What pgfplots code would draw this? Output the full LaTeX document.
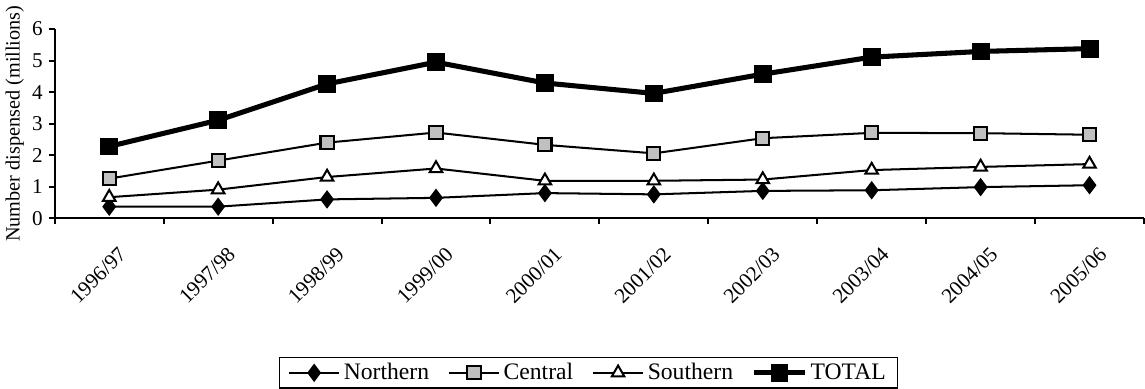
\documentclass[border=0pt]{standalone}
\usepackage{pgfplots}
\pgfplotsset{compat=1.18}
\usepackage{fontspec}
\setmainfont{Liberation Serif}

\definecolor{centralgray}{HTML}{C0C0C0}

\begin{document}
\begin{tikzpicture}
\begin{axis}[
    scale only axis,
    width=645.6pt, height=112.2pt,
    xmin=-0.5, xmax=9.5,
    ymin=0, ymax=6,
    axis x line*=bottom,
    axis y line*=left,
    axis line style={line width=1.2pt},
    xtick={-0.5,0.5,...,9.5},
    x tick label as interval,
    xticklabels={1996/97,1997/98,1998/99,1999/00,2000/01,2001/02,2002/03,2003/04,2004/05,2005/06},
    x tick label style={rotate=45, anchor=north east, xshift=-2pt, yshift=-9pt, font=\fontsize{12.5}{14}\selectfont},
    ytick={0,1,...,6},
    y tick label style={font=\fontsize{12.5}{14}\selectfont},
    tick align=outside,
    major tick length=3.6pt,
    tick style={line width=1.2pt, black},
    ylabel={Number dispensed (millions)},
    ylabel style={font=\fontsize{12}{14}\selectfont, yshift=-2pt},
    /pgf/number format/assume math mode=true,
    legend columns=4,
    legend style={at={(0.49,0)}, anchor=north, yshift=-82pt, draw=black, line width=0.9pt,
        font=\fontsize{14}{16}\selectfont,
        /tikz/every even column/.append style={column sep=9pt},
        /tikz/every odd column/.append style={column sep=0pt},
        inner xsep=5pt, inner ysep=1.5pt},
    legend image code/.code={
        \draw[mark repeat=2, mark phase=2, #1] plot coordinates {(0pt,0pt) (15pt,0pt) (30pt,0pt)};
    },
    legend cell align=left,
]
\addplot[black, line width=1.2pt, mark=diamond*, mark size=4.5pt, mark options={fill=black}]
    coordinates {(0,0.37) (1,0.37) (2,0.60) (3,0.65) (4,0.80) (5,0.76) (6,0.87) (7,0.89) (8,0.99) (9,1.05)};
\addlegendentry{Northern}
\addplot[black, line width=1.2pt, mark=square*, mark size=3.9pt, mark options={fill=centralgray, line width=1.2pt}]
    coordinates {(0,1.26) (1,1.83) (2,2.40) (3,2.72) (4,2.33) (5,2.06) (6,2.54) (7,2.71) (8,2.70) (9,2.65)};
\addlegendentry{Central}
\addplot[black, line width=1.2pt, mark=triangle*, mark size=4.3pt, mark options={fill=white, line width=1.2pt}]
    coordinates {(0,0.67) (1,0.91) (2,1.31) (3,1.58) (4,1.19) (5,1.19) (6,1.23) (7,1.53) (8,1.63) (9,1.72)};
\addlegendentry{Southern}
\addplot[black, line width=3pt, mark=square*, mark size=5pt, mark options={fill=black, line width=0.5pt}]
    coordinates {(0,2.28) (1,3.11) (2,4.26) (3,4.95) (4,4.29) (5,3.96) (6,4.57) (7,5.11) (8,5.29) (9,5.38)};
\addlegendentry{TOTAL}
\end{axis}
\end{tikzpicture}
\end{document}
